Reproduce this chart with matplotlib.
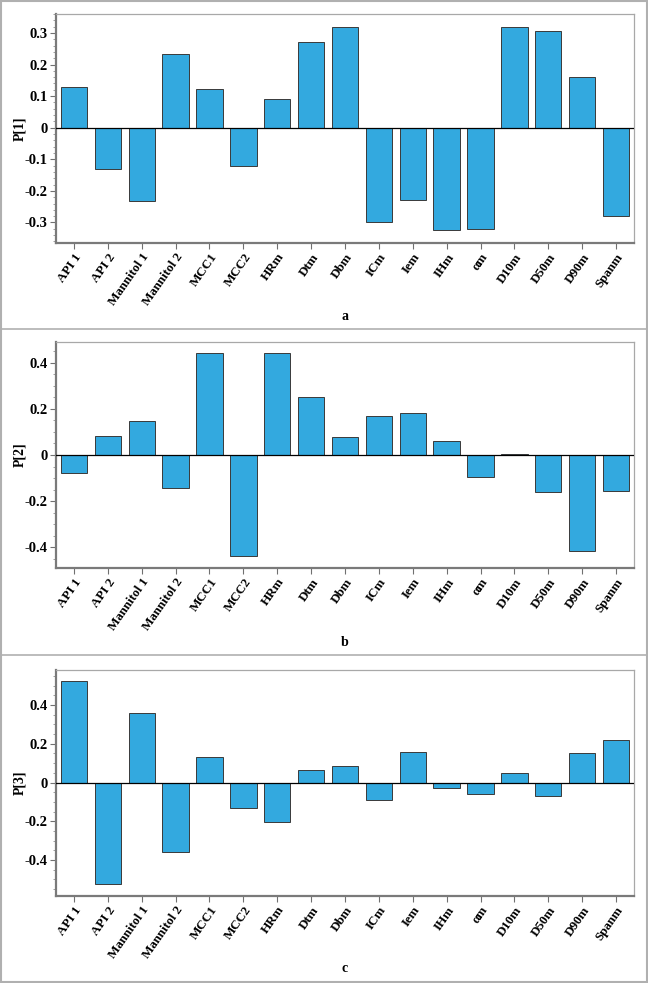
import numpy as np
import matplotlib.pyplot as plt
from matplotlib.ticker import MultipleLocator, AutoMinorLocator
from matplotlib.lines import Line2D

plt.rcParams['font.family'] = ['Liberation Serif', 'DejaVu Serif']
plt.rcParams['font.weight'] = 'bold'

variables = ['API 1', 'API 2', 'Mannitol 1', 'Mannitol 2', 'MCC1', 'MCC2', 'HRm',
             'Dtm', 'Dbm', 'ICm', 'Iem', 'IHm', 'αm', 'D10m', 'D50m', 'D90m', 'Spanm']

p1 = [0.130, -0.130, -0.232, 0.232, 0.122, -0.120, 0.090, 0.272, 0.320, -0.300,
      -0.230, -0.323, -0.320, 0.320, 0.305, 0.160, -0.280]
p2 = [-0.077, 0.083, 0.146, -0.141, 0.443, -0.440, 0.443, 0.252, 0.077, 0.170,
      0.183, 0.061, -0.097, 0.004, -0.161, -0.416, -0.158]
p3 = [0.524, -0.522, 0.360, -0.360, 0.134, -0.134, -0.202, 0.067, 0.086, -0.091,
      0.157, -0.026, -0.059, 0.047, -0.072, 0.153, 0.222]

panels = [
    (p1, 'P[1]', 'a', (-0.365, 0.36), 0.1, 5),
    (p2, 'P[2]', 'b', (-0.49, 0.49), 0.2, 4),
    (p3, 'P[3]', 'c', (-0.586, 0.581), 0.2, 4),
]

W, H = 648, 983
fig = plt.figure(figsize=(W / 100, H / 100), dpi=100)

# axes top/bottom in pixels, letter y in pixels
ax_px = [(14, 243, 316), (342, 568, 643), (670, 896, 969)]
left, right = 56, 634

x = np.arange(len(variables))
for (vals, ylab, letter, ylim, major, nminor), (top, bot, ly) in zip(panels, ax_px):
    ax = fig.add_axes([left / W, 1 - bot / H, (right - left) / W, (bot - top) / H])
    ax.bar(x, vals, width=0.78, color='#33a9df', edgecolor='#3a3a3a', linewidth=0.7, zorder=2)
    ax.axhline(0, color='black', linewidth=0.9, zorder=3)
    ax.set_xlim(-0.53, len(variables) - 0.47)
    ax.set_ylim(*ylim)
    ax.yaxis.set_major_locator(MultipleLocator(major))
    ax.yaxis.set_minor_locator(AutoMinorLocator(nminor))
    ax.yaxis.set_major_formatter(plt.FuncFormatter(lambda v, p: '0' if abs(v) < 1e-9 else ('%g' % v)))
    ax.set_xticks(x)
    ax.set_xticklabels(variables, rotation=55, ha='right', rotation_mode='anchor',
                       fontsize=9.4, fontweight='bold')
    ax.tick_params(axis='y', labelsize=10.5, length=4, width=0.8, color='#707070', pad=2)
    ax.tick_params(axis='y', which='minor', length=2, width=0.6, color='#909090')
    ax.tick_params(axis='x', length=4, width=0.8, color='#707070', pad=2)
    for lbl in ax.get_yticklabels():
        lbl.set_fontweight('bold')
    ax.set_ylabel(ylab, fontsize=10, fontweight='bold')
    ax.yaxis.set_label_coords((26 - left) / (right - left), 0.5)
    for s in ['left', 'bottom']:
        ax.spines[s].set_color('#7a7a7a')
        ax.spines[s].set_linewidth(1.6)
    for s in ['top', 'right']:
        ax.spines[s].set_color('#a8a8a8')
        ax.spines[s].set_linewidth(0.9)
    fig.text(345 / W, 1 - ly / H, letter, ha='center', va='center',
             fontsize=10, fontweight='bold')

# panel frames
for yy in [328.5, 654.5]:
    fig.add_artist(Line2D([0, 1], [1 - yy / H] * 2, color='#b0b0b0', linewidth=1.2))
fig.add_artist(plt.Rectangle((0.001, 0.001), 0.998, 0.998, fill=False,
                             edgecolor='#b0b0b0', linewidth=1.5, transform=fig.transFigure))

fig.savefig('out.png', dpi=100)
